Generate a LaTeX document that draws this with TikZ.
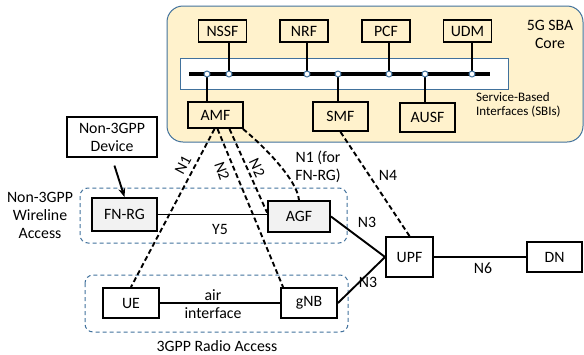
\documentclass[tikz,border=0pt]{standalone}
\usepackage{fontspec}
\setmainfont{Carlito}
\usetikzlibrary{arrows.meta,calc}
\definecolor{coreFill}{RGB}{255,242,204}
\definecolor{edgeBlue}{RGB}{65,113,156}
\definecolor{boxGray}{RGB}{242,242,242}
\begin{document}
\begin{tikzpicture}[x=1pt,y=-1pt,
  every node/.style={font=\fontsize{15.8}{18}\selectfont},
  nf/.style={draw,line width=1.9pt,inner sep=0pt,align=center},
  grayf/.style={nf,fill=boxGray},
  dot/.style={circle,draw=edgeBlue,fill=white,line width=1pt,inner sep=0pt,minimum size=6pt},
  solidlink/.style={line width=1.9pt},
  dashlink/.style={line width=1.9pt,dash pattern=on 5pt off 3pt},
  accessbox/.style={draw=edgeBlue,line width=1pt,dash pattern=on 4pt off 3pt,rounded corners=8pt},
  lbl/.style={inner sep=1pt,align=center}]
\path[use as bounding box] (0,0) rectangle (584,354);

% core
\draw[edgeBlue,line width=1pt,fill=coreFill,rounded corners=16pt] (167,6) rectangle (583,142);
\draw[edgeBlue,line width=0.8pt,fill=white] (180,58) rectangle (508,89);
\draw[line width=3.3pt] (189,74) -- (490,74);

\node[nf,minimum width=48pt,minimum height=22pt] (nssf) at (222.5,31) {NSSF};
\node[nf,minimum width=48pt,minimum height=22pt] (nrf) at (304,31) {NRF};
\node[nf,minimum width=48pt,minimum height=22pt] (pcf) at (386,31) {PCF};
\node[nf,minimum width=48pt,minimum height=22pt] (udm) at (467.5,31) {UDM};
\node[nf,minimum width=55pt,minimum height=26pt] (amf) at (215.5,115) {AMF};
\node[nf,minimum width=55pt,minimum height=29pt] (smf) at (340.5,116.5) {SMF};
\node[nf,minimum width=55pt,minimum height=29pt] (ausf) at (427.5,117.5) {AUSF};

\coordinate (p1) at (207,74);
\coordinate (p2) at (229,74);
\coordinate (p3) at (307,74);
\coordinate (p4) at (338,74);
\coordinate (p5) at (389,74);
\coordinate (p6) at (425,74);
\coordinate (p7) at (472,74);
\draw[solidlink] (p1) -- (p1 |- amf.north);
\draw[solidlink] (p2) -- (p2 |- nssf.south);
\draw[solidlink] (p3) -- (p3 |- nrf.south);
\draw[solidlink] (p4) -- (p4 |- smf.north);
\draw[solidlink] (p5) -- (p5 |- pcf.south);
\draw[solidlink] (p6) -- (p6 |- ausf.north);
\draw[solidlink] (p7) -- (p7 |- udm.south);
\node[dot] (d1) at (p1) {};
\node[dot] (d2) at (p2) {};
\node[dot] (d3) at (p3) {};
\node[dot] (d4) at (p4) {};
\node[dot] (d5) at (p5) {};
\node[dot] (d6) at (p6) {};
\node[dot] (d7) at (p7) {};

\node[lbl] (coretxt) at (550,34) {5G SBA\\Core};
\node[anchor=west,align=left,inner sep=0pt,font=\fontsize{13}{14.5}\selectfont] (sbitxt) at (476,105) {Service-Based\\Interfaces (SBIs)};

% access boxes
\draw[accessbox] (80,188) rectangle (347,243);
\draw[accessbox] (85,275) rectangle (348,332);
\node[lbl] (wltxt) at (40,215) {Non-3GPP\\Wireline\\Access};
\node[lbl] (radtxt) at (217,346) {3GPP Radio Access};

% nodes
\node[nf,minimum width=90pt,minimum height=40pt] (dev) at (112,137) {Non-3GPP\\Device};
\node[grayf,minimum width=65pt,minimum height=33pt] (fnrg) at (124.5,214.5) {FN-RG};
\node[grayf,minimum width=62pt,minimum height=31pt] (agf) at (299,216.5) {AGF};
\node[nf,minimum width=56pt,minimum height=30pt] (ue) at (131,303) {UE};
\node[nf,minimum width=56pt,minimum height=30pt] (gnb) at (309,303) {gNB};
\node[nf,minimum width=47pt,minimum height=40pt] (upf) at (409.5,257) {UPF};
\node[nf,minimum width=55pt,minimum height=30pt] (dn) at (554.5,257) {DN};

% solid links
\draw[solidlink,-{Stealth[length=9pt,width=7pt]},shorten <=8pt] (dev.south) -- (fnrg.north);
\draw[solidlink] (fnrg.east) -- (fnrg.east -| agf.west);
\node[lbl] (y5) at (220,229) {Y5};
\draw[solidlink] (ue.east) -- (gnb.west);
\node[lbl] (air) at (213,304.5) {air\\interface};
\draw[solidlink] (agf.east) -- (upf.west);
\draw[solidlink] (gnb.east) -- (upf.west);
\draw[solidlink] (upf.east) -- (dn.west);
\node[lbl] (n3a) at (367,222) {N3};
\node[lbl] (n3b) at (368,282) {N3};
\node[lbl] (n6) at (483,268) {N6};

% dashed links
\draw[dashlink] ([xshift=-1pt]amf.south) -- (ue.north);
\draw[dashlink] ([xshift=2pt]amf.south) -- ([xshift=3pt]gnb.north west);
\draw[dashlink] ([xshift=14pt]amf.south) -- ([yshift=4pt]agf.west);
\draw[dashlink] ([xshift=-1pt]amf.south east) .. controls (258,141) and (297,178) .. (agf.north);
\draw[dashlink] (smf.south) -- (upf.north);
\node[lbl,rotate=62] (n1) at (183,165) {N1};
\node[lbl,rotate=-71] (n2a) at (222,171) {N2};
\node[lbl,rotate=-65] (n2b) at (257,168) {N2};
\node[lbl] (n1f) at (318,167) {N1 (for\\FN-RG)};
\node[lbl] (n4) at (388,175) {N4};
\end{tikzpicture}
\end{document}
